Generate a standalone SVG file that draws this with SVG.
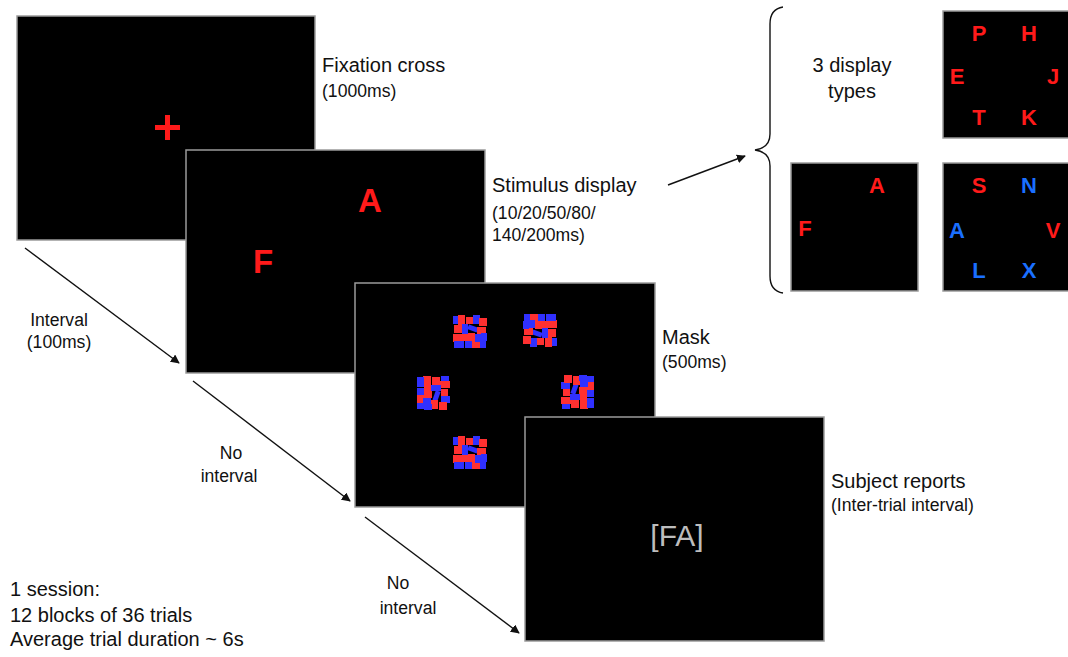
<svg xmlns="http://www.w3.org/2000/svg" width="1068" height="657" viewBox="0 0 1068 657">
<style>
.scr{fill:#000;stroke:#9a9a9a;stroke-width:1.5}
.lbl{font-family:"Liberation Sans",Arial,sans-serif;font-size:20px;fill:#111}
.sub{font-family:"Liberation Sans",Arial,sans-serif;font-size:17.6px;fill:#111}
.lt{font-family:"Liberation Sans",Arial,sans-serif;font-weight:bold;font-size:22px;text-anchor:middle}
.r{fill:#ff1a1a}
.b{fill:#1a6fff}
.con{stroke:#111;stroke-width:1.4;fill:none}
</style>
<defs>
<marker id="ah" viewBox="0 0 10 10" refX="9" refY="5" markerWidth="9" markerHeight="9" markerUnits="userSpaceOnUse" orient="auto">
<path d="M0,0 L10,5 L0,10 z" fill="#111"/>
</marker>
<g id="mk">
<rect x="0" y="1" width="7" height="8" fill="#3030ff"/>
<rect x="5" y="0" width="7" height="10" fill="#ff3030"/>
<rect x="13" y="2" width="9" height="7" fill="#ff3030"/>
<rect x="20" y="0" width="7" height="9" fill="#3030ff"/>
<rect x="26" y="3" width="8" height="8" fill="#ff3030"/>
<rect x="1" y="10" width="8" height="8" fill="#ff3030"/>
<rect x="9" y="9" width="6" height="10" fill="#3030ff"/>
<rect x="15" y="11" width="10" height="5" fill="#3030ff" transform="rotate(20 20 13)"/>
<rect x="24" y="12" width="9" height="7" fill="#ff3030"/>
<rect x="0" y="19" width="7" height="8" fill="#ff3030"/>
<rect x="7" y="19" width="8" height="7" fill="#ff3030"/>
<rect x="15" y="18" width="7" height="10" fill="#ff3030"/>
<rect x="22" y="19" width="6" height="9" fill="#3030ff"/>
<rect x="28" y="18" width="6" height="8" fill="#3030ff"/>
<rect x="1" y="26" width="10" height="7" fill="#3030ff"/>
<rect x="12" y="26" width="7" height="7" fill="#3030ff"/>
<rect x="19" y="27" width="8" height="6" fill="#ff3030"/>
<rect x="27" y="26" width="6" height="7" fill="#3030ff"/>
</g>
</defs>

<g id="connectors">
<path class="con" d="M25,248 L179,363" marker-end="url(#ah)"/>
<path class="con" d="M193,381 L350,501" marker-end="url(#ah)"/>
<path class="con" d="M365,517 L519,633" marker-end="url(#ah)"/>
<path class="con" d="M668,185 L745,156" marker-end="url(#ah)"/>
<path class="con" stroke="#333" stroke-width="1.2" d="M783,7 Q770,9 770,24 L770,134 Q770,148 755,150 Q770,152 770,166 L770,276 Q770,291 783,293"/>
</g>

<g id="fixation">
<rect class="scr" x="17" y="16" width="298" height="224"/>
<rect x="155" y="125" width="25" height="5" class="r"/>
<rect x="165" y="115" width="5" height="25" class="r"/>
<text class="lbl" x="322" y="72">Fixation cross</text>
<text class="sub" x="322" y="97">(1000ms)</text>
</g>

<g id="stimulus">
<rect class="scr" x="186" y="150" width="299" height="223"/>
<text x="370" y="212" font-family="Liberation Sans,Arial,sans-serif" font-weight="bold" font-size="33" text-anchor="middle" class="r">A</text>
<text x="263" y="273" font-family="Liberation Sans,Arial,sans-serif" font-weight="bold" font-size="33" text-anchor="middle" class="r">F</text>
<text class="lbl" x="492" y="192">Stimulus display</text>
<text class="sub" x="492" y="219">(10/20/50/80/</text>
<text class="sub" x="492" y="241">140/200ms)</text>
</g>

<g id="mask">
<rect class="scr" x="355" y="283" width="300" height="224"/>
<use href="#mk" x="453" y="315"/>
<use href="#mk" x="525" y="313" transform="rotate(180 541 330)"/>
<use href="#mk" x="417" y="377" transform="rotate(90 434 393)"/>
<use href="#mk" x="560" y="376" transform="rotate(-90 577 392)"/>
<use href="#mk" x="453" y="436"/>
<text class="lbl" x="662" y="344">Mask</text>
<text class="sub" x="662" y="368">(500ms)</text>
</g>

<g id="report">
<rect class="scr" x="525" y="417" width="299" height="224"/>
<text x="677" y="546" font-family="Liberation Sans,Arial,sans-serif" font-size="30" fill="#bdbdbd" text-anchor="middle">[FA]</text>
<text class="lbl" x="831" y="488">Subject reports</text>
<text class="sub" x="831" y="511">(Inter-trial interval)</text>
</g>

<g id="interval-labels">
<text class="sub" x="59" y="326" text-anchor="middle">Interval</text>
<text class="sub" x="59" y="348" text-anchor="middle">(100ms)</text>
<text class="sub" x="231" y="459" text-anchor="middle">No</text>
<text class="sub" x="229" y="482" text-anchor="middle">interval</text>
<text class="sub" x="398" y="589" text-anchor="middle">No</text>
<text class="sub" x="408" y="614" text-anchor="middle">interval</text>
</g>

<g id="session">
<text class="lbl" x="10" y="596">1 session:</text>
<text class="lbl" x="10" y="622">12 blocks of 36 trials</text>
<text class="lbl" x="10" y="646">Average trial duration ~ 6s</text>
</g>

<g id="display-types">
<text class="lbl" x="852" y="72" text-anchor="middle">3 display</text>
<text class="lbl" x="852" y="98" text-anchor="middle">types</text>
</g>

<g id="type-six-red">
<rect class="scr" x="943" y="11" width="130" height="127"/>
<text class="lt r" x="979" y="41">P</text>
<text class="lt r" x="1029" y="41">H</text>
<text class="lt r" x="957" y="84">E</text>
<text class="lt r" x="1053" y="84">J</text>
<text class="lt r" x="979" y="125">T</text>
<text class="lt r" x="1029" y="125">K</text>
</g>

<g id="type-two">
<rect class="scr" x="791" y="163" width="127" height="128"/>
<text class="lt r" x="877" y="193">A</text>
<text class="lt r" x="805" y="236">F</text>
</g>

<g id="type-six-mixed">
<rect class="scr" x="943" y="163" width="130" height="128"/>
<text class="lt r" x="979" y="193">S</text>
<text class="lt b" x="1029" y="193">N</text>
<text class="lt b" x="957" y="238">A</text>
<text class="lt r" x="1053" y="238">V</text>
<text class="lt b" x="979" y="278">L</text>
<text class="lt b" x="1029" y="278">X</text>
</g>
</svg>
